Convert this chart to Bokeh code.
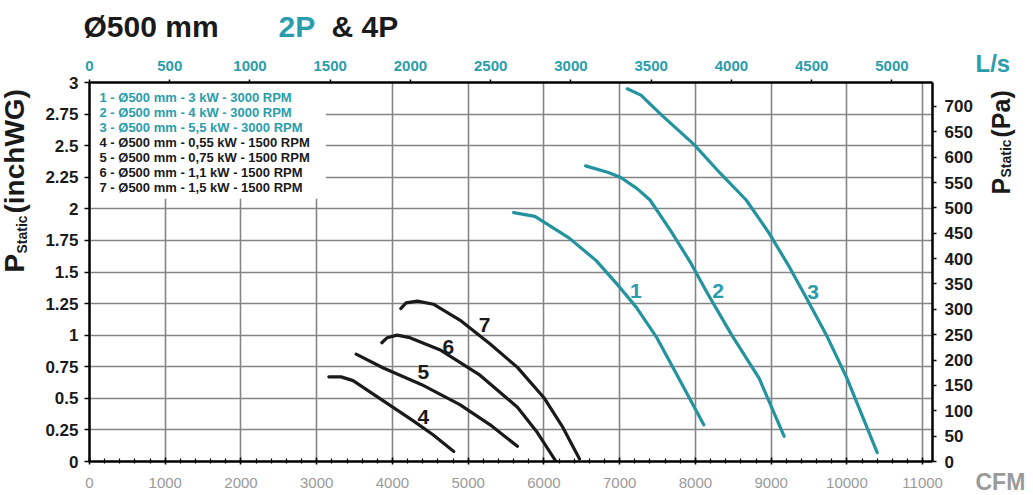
import math
from bokeh.plotting import figure
from bokeh.layouts import row, column
from bokeh.models import (Range1d, LinearAxis, FixedTicker, NumeralTickFormatter,
                          Label, BoxAnnotation, ColumnDataSource)
from bokeh.core.properties import value
from bokeh.embed import file_html
from bokeh.resources import INLINE

# ---------------- data ----------------
CFM_PER_LS = 2.11888
PA_PER_INWG = 249.089
CFM_MAX = 11130

cfm_1 = [5600, 5880, 6330, 6690, 7000, 7220, 7490, 7760, 8110]
ps_1 = [1.97, 1.94, 1.77, 1.59, 1.38, 1.22, 0.98, 0.68, 0.29]

cfm_2 = [6550, 6840, 7010, 7230, 7400, 7670, 7940, 8160, 8480, 8840, 9170]
ps_2 = [2.34, 2.29, 2.25, 2.16, 2.07, 1.83, 1.57, 1.33, 1.00, 0.66, 0.20]

cfm_3 = [7100, 7280, 7540, 7980, 8330, 8670, 8970, 9240, 9460, 9730, 10000, 10400]
ps_3 = [2.95, 2.90, 2.75, 2.51, 2.28, 2.07, 1.81, 1.54, 1.30, 1.00, 0.66, 0.07]

cfm_4 = [3160, 3320, 3480, 3880, 4280, 4540, 4810]
ps_4 = [0.67, 0.67, 0.64, 0.48, 0.32, 0.21, 0.08]

cfm_5 = [3520, 3880, 4380, 4890, 5290, 5650]
ps_5 = [0.85, 0.74, 0.61, 0.45, 0.29, 0.12]

cfm_6 = [3860, 3930, 4060, 4230, 4640, 5140, 5650, 5900, 6160]
ps_6 = [0.94, 0.98, 1.00, 0.98, 0.88, 0.69, 0.43, 0.24, 0.0]

cfm_7 = [4110, 4180, 4330, 4540, 4890, 5290, 5650, 6000, 6250, 6470]
ps_7 = [1.21, 1.255, 1.27, 1.245, 1.12, 0.93, 0.745, 0.505, 0.27, 0.02]

curve_ids = ["1", "2", "3", "4", "5", "6", "7"]
label_cfm = [7214, 8298, 9552, 4409, 4409, 4737, 5217]
label_ps = [1.35, 1.35, 1.34, 0.35, 0.705, 0.905, 1.08]

legend_texts = [
    "1 - Ø500 mm - 3 kW - 3000 RPM",
    "2 - Ø500 mm - 4 kW - 3000 RPM",
    "3 - Ø500 mm - 5,5 kW - 3000 RPM",
    "4 - Ø500 mm - 0,55 kW - 1500 RPM",
    "5 - Ø500 mm - 0,75 kW - 1500 RPM",
    "6 - Ø500 mm - 1,1 kW - 1500 RPM",
    "7 - Ø500 mm - 1,5 kW - 1500 RPM",
]

cfm_ticks = list(range(0, 11001, 1000))
cfm_minor = list(range(0, 11001, 200))
ls_ticks = list(range(0, 5001, 500))
inwg_ticks = [0, 0.25, 0.5, 0.75, 1, 1.25, 1.5, 1.75, 2, 2.25, 2.5, 2.75, 3]
pa_ticks = list(range(0, 701, 50))

# ---------------- style / layout ----------------
FONT = "Liberation Sans"
TEAL = "#22939f"
TEAL_TXT = "#2a9dac"
DARK = "#1a1a1a"
GRAY_TXT = "#9a9a9a"

TOTAL_W, TOTAL_H = 1030, 494
HEAD_H = 46
LEFT_W = 40
RIGHT_X = 975
FL, FT, FR, FB = 89, 82, 932, 461   # frame edges in page pixels
ROW_H = TOTAL_H - HEAD_H


def text_fig(w, h):
    f = figure(width=w, height=h, x_range=Range1d(0, w), y_range=Range1d(h, 0),
               output_backend="svg", toolbar_location=None, min_border=0, title=None,
               x_axis_location=None, y_axis_location=None,
               background_fill_color="white", border_fill_color="white")
    f.outline_line_color = None
    f.grid.grid_line_color = None
    return f


def put(f, text, x, y, size, color=DARK, angle=0.0):
    f.text(x=[x], y=[y], text=[text], text_font=value(FONT), text_font_size=size,
           text_font_style="bold", text_color=color, angle=angle,
           text_align="left", text_baseline="middle")


# ---------------- main chart ----------------
p = figure(frame_width=FR - FL, frame_height=FB - FT, title=None,
           x_range=Range1d(0, CFM_MAX), y_range=Range1d(0, 3),
           output_backend="svg", toolbar_location=None,
           min_border_left=FL - LEFT_W, min_border_right=RIGHT_X - FR,
           min_border_top=FT - HEAD_H, min_border_bottom=TOTAL_H - FB,
           background_fill_color="white", border_fill_color="white")
p.outline_line_color = None

xa = p.xaxis[0]
xa.ticker = FixedTicker(ticks=cfm_ticks, minor_ticks=cfm_minor)
xa.axis_line_width = 2.5
xa.axis_line_color = "black"
xa.major_tick_in = 4
xa.major_tick_out = 3
xa.minor_tick_in = 3
xa.minor_tick_out = 2
xa.major_tick_line_width = 1.5
xa.minor_tick_line_width = 1.2
xa.major_label_text_font = FONT
xa.major_label_text_font_size = "15px"
xa.major_label_text_color = GRAY_TXT
xa.major_label_standoff = 13

ya = p.yaxis[0]
ya.ticker = FixedTicker(ticks=inwg_ticks)
ya.formatter = NumeralTickFormatter(format="0.[00]")
ya.axis_line_width = 2.5
ya.axis_line_color = "black"
ya.major_tick_in = 0
ya.major_tick_out = 5
ya.major_tick_line_width = 1.5
ya.minor_tick_line_color = None
ya.major_label_text_font = FONT
ya.major_label_text_font_size = "17px"
ya.major_label_text_font_style = "bold"
ya.major_label_text_color = DARK
ya.major_label_standoff = 6

p.xgrid.grid_line_color = "#858585"
p.xgrid.grid_line_width = 1.6
p.ygrid.grid_line_color = "#858585"
p.ygrid.grid_line_width = 1.6

p.extra_x_ranges = {"ls": Range1d(0, CFM_MAX / CFM_PER_LS)}
top = LinearAxis(x_range_name="ls", ticker=FixedTicker(ticks=ls_ticks))
top.axis_line_width = 2.5
top.axis_line_color = "black"
top.major_tick_in = 0
top.major_tick_out = 3
top.major_tick_line_width = 1.5
top.minor_tick_line_color = None
top.major_label_text_font = FONT
top.major_label_text_font_size = "15px"
top.major_label_text_font_style = "bold"
top.major_label_text_color = TEAL_TXT
top.major_label_standoff = 9
p.add_layout(top, "above")

p.extra_y_ranges = {"pa": Range1d(0, 3 * PA_PER_INWG)}
right = LinearAxis(y_range_name="pa", ticker=FixedTicker(ticks=pa_ticks))
right.axis_line_width = 2.5
right.axis_line_color = "black"
right.major_tick_in = 0
right.major_tick_out = 4
right.major_tick_line_width = 1.5
right.minor_tick_line_color = None
right.major_label_text_font = FONT
right.major_label_text_font_size = "17px"
right.major_label_text_font_style = "bold"
right.major_label_text_color = DARK
right.major_label_standoff = 8
p.add_layout(right, "right")

# legend backdrop covering the grid in the top-left corner
box = BoxAnnotation(left=15, right=3120, bottom=2.08, top=3,
                    fill_color="white", fill_alpha=1.0, line_alpha=0,
                    level="underlay")
p.add_layout(box)

curves = [(cfm_1, ps_1, TEAL), (cfm_2, ps_2, TEAL), (cfm_3, ps_3, TEAL),
          (cfm_4, ps_4, DARK), (cfm_5, ps_5, DARK), (cfm_6, ps_6, DARK),
          (cfm_7, ps_7, DARK)]
for xs, ys, col in curves:
    p.line(xs, ys, line_color=col, line_width=3.2, line_join="round", line_cap="round")

lab_src = ColumnDataSource(dict(x=label_cfm, y=label_ps, t=curve_ids,
                                c=[TEAL_TXT] * 3 + [DARK] * 4))
p.text(x="x", y="y", text="t", source=lab_src, text_color="c",
       text_font=value(FONT), text_font_size="21px", text_font_style="bold",
       text_align="center", text_baseline="middle")

# legend texts (inside the frame)
for i, t in enumerate(legend_texts):
    p.add_layout(Label(x=99 - FL, y=FB - (97 + i * 15.0), x_units="screen", y_units="screen",
                       text=t, text_font=FONT, text_font_size="13px", text_font_style="bold",
                       text_color=TEAL_TXT if i < 3 else DARK, text_baseline="middle"))

# ---------------- header (title) ----------------
head = text_fig(TOTAL_W, HEAD_H)
put(head, "Ø500 mm", 83, 26, "30px")
put(head, "2P", 278, 26, "30px", color=TEAL_TXT)
put(head, "& 4P", 331, 26, "30px")

half_pi = math.pi / 2
oy = HEAD_H

# ---------------- left title ----------------
left = text_fig(LEFT_W, ROW_H)
put(left, "P", 14, 272 - oy, "28px", angle=half_pi)
put(left, "Static", 21, 253 - oy, "14px", angle=half_pi)
put(left, "(inchWG)", 14, 213 - oy, "28px", angle=half_pi)

# ---------------- right titles ----------------
rw = TOTAL_W - RIGHT_X
rfig = text_fig(rw, ROW_H)
put(rfig, "L/s", 0, 63 - oy, "24px", color=TEAL_TXT)
put(rfig, "CFM", 0, 481 - oy, "23px", color=GRAY_TXT)
put(rfig, "P", 1000 - RIGHT_X, 194 - oy, "25px", angle=half_pi)
put(rfig, "Static", 1005 - RIGHT_X, 177 - oy, "14px", angle=half_pi)
put(rfig, "(Pa)", 1000 - RIGHT_X, 137 - oy, "25px", angle=half_pi)

# each figure wrapped on its own so that the row does not align their frames
layout = column(column(head), row(column(left), column(p), column(rfig)))
open("out.html", "w").write(file_html(layout, INLINE))
